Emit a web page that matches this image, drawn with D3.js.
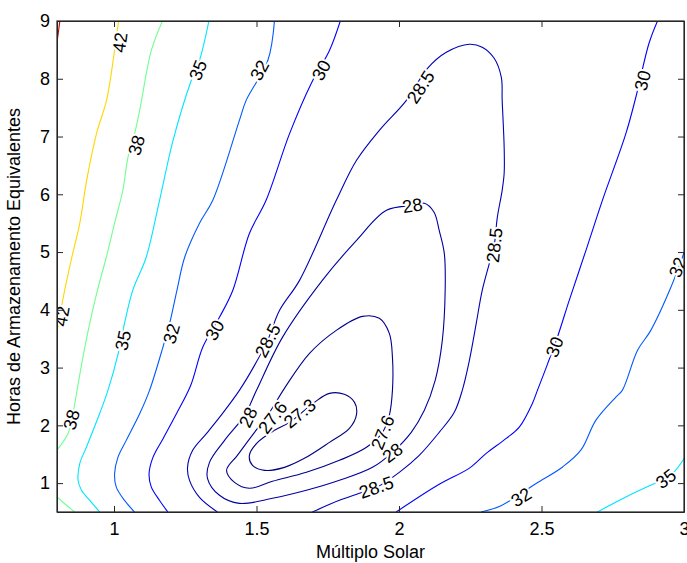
<!DOCTYPE html>
<html>
<head>
<meta charset="utf-8">
<script src="https://cdn.jsdelivr.net/npm/d3@7"></script>
<style>
body { margin: 0; background: #fff; }
text { font-family: "Liberation Sans", Arial, sans-serif; }
.axis path, .axis line { stroke: #262626; }
.axis text { fill: #000; font-size: 18px; }
</style>
</head>
<body>
<div id="chart"></div>
<script>
// ticks
var xTicks = [1, 1.5, 2, 2.5, 3];
var yTicks = [1, 2, 3, 4, 5, 6, 7, 8, 9];

// contour lines, points are [multiplo solar, horas]
var line48 = [[0.81, 9], [0.80, 8.63]];
var line42 = [[1.016, 9], [1.002, 8.49], [0.974, 7.63], [0.939, 7.06], [0.904, 6.24], [0.880, 5.50],
  [0.852, 4.91], [0.827, 4.34], [0.817, 4.08], [0.80, 3.62]];
var line38a = [[1.170, 9], [1.131, 8.49], [1.090, 7.45], [1.071, 7.02], [1.049, 6.64], [1.031, 6.07],
  [1.002, 5.50], [0.973, 4.91], [0.942, 4.34], [0.915, 3.77], [0.891, 3.18], [0.873, 2.68],
  [0.852, 2.10], [0.839, 1.86], [0.80, 1.57]];
var line38b = [[0.80, 0.76], [0.83, 0.63], [0.862, 0.5]];
var line35a = [[1.333, 9], [1.300, 8.32], [1.271, 7.97], [1.207, 6.93], [1.160, 5.90], [1.113, 4.91],
  [1.066, 4.34], [1.037, 3.77], [1.014, 3.23], [0.979, 2.61], [0.950, 2.21], [0.903, 1.62],
  [0.880, 1.34], [0.874, 1.05], [0.886, 0.875], [0.915, 0.70], [0.950, 0.5]];
var line35b = [[3.0, 1.42], [2.965, 1.19], [2.936, 1.08], [2.895, 0.99], [2.796, 0.76], [2.696, 0.5]];
var line32a = [[1.563, 9], [1.540, 8.32], [1.464, 7.63], [1.440, 7.28], [1.347, 5.90], [1.300, 5.50],
  [1.248, 4.91], [1.221, 4.34], [1.195, 3.76], [1.172, 3.36], [1.125, 2.61], [1.090, 2.20],
  [1.043, 1.74], [1.014, 1.45], [1.002, 1.16], [1.008, 0.93], [1.037, 0.70], [1.072, 0.5]];
var line32b = [[3.0, 4.99], [2.954, 4.39], [2.883, 3.64], [2.837, 3.30], [2.784, 2.61], [2.761, 2.49],
  [2.691, 2.09], [2.638, 1.57], [2.574, 1.28], [2.480, 0.99], [2.358, 0.61], [2.288, 0.5]];
var line30a = [[1.794, 9], [1.756, 8.49], [1.692, 7.92], [1.616, 7.05], [1.534, 5.90], [1.475, 5.32],
  [1.417, 4.34], [1.370, 3.87], [1.312, 3.36], [1.269, 2.69], [1.219, 2.20], [1.172, 1.77],
  [1.137, 1.45], [1.123, 1.16], [1.131, 0.93], [1.160, 0.70], [1.189, 0.5]];
var line30b = [[2.907, 9], [2.877, 8.61], [2.831, 7.68], [2.796, 7.05], [2.714, 5.90], [2.656, 5.03],
  [2.597, 4.16], [2.556, 3.53], [2.521, 3.06], [2.486, 2.61], [2.468, 2.38], [2.422, 1.97],
  [2.375, 1.77], [2.305, 1.51], [2.247, 1.26], [2.141, 0.98], [1.990, 0.5]];
var line28_5 = [[1.363, 0.5], [1.300, 0.754], [1.265, 1.048], [1.258, 1.273], [1.276, 1.568],
  [1.325, 1.862], [1.381, 2.208], [1.440, 2.606], [1.493, 3.038], [1.539, 3.471], [1.581, 3.991],
  [1.651, 4.510], [1.780, 5.896], [1.851, 6.588], [1.931, 7.107], [2.026, 7.627], [2.100, 8.18],
  [2.166, 8.458], [2.247, 8.597], [2.292, 8.545], [2.334, 8.354], [2.359, 8.025], [2.362, 7.627],
  [2.369, 6.813], [2.369, 6.363], [2.362, 6.069], [2.345, 5.601], [2.334, 5.116], [2.317, 4.804],
  [2.292, 4.337], [2.271, 3.766], [2.247, 3.125], [2.222, 2.606], [2.194, 2.226], [2.141, 1.879],
  [2.071, 1.481], [2.001, 1.187], [1.921, 0.927], [1.861, 0.823], [1.791, 0.702], [1.696, 0.5]];
var line28 = [[1.458, 2.173], [1.500, 2.606], [1.591, 3.523], [1.731, 4.510], [1.851, 5.203],
  [1.956, 5.722], [2.047, 5.809], [2.089, 5.844], [2.123, 5.69], [2.141, 5.376], [2.159, 4.977],
  [2.162, 4.337], [2.152, 3.471], [2.127, 2.779], [2.089, 2.260], [2.043, 1.879], [1.977, 1.533],
  [1.907, 1.273], [1.791, 1.048], [1.675, 0.875], [1.556, 0.737], [1.440, 0.650], [1.370, 0.789],
  [1.328, 1.083], [1.335, 1.360], [1.388, 1.741]];
var line27_6 = [[1.395, 1.221], [1.433, 1.481], [1.493, 1.879], [1.546, 2.226], [1.598, 2.641],
  [1.686, 3.246], [1.780, 3.645], [1.872, 3.887], [1.931, 3.853], [1.966, 3.593], [1.977, 3.177],
  [1.977, 2.606], [1.966, 2.173], [1.942, 1.879], [1.886, 1.620], [1.791, 1.394], [1.675, 1.187],
  [1.556, 1.031], [1.475, 0.910], [1.423, 1.013]];
var line27_3 = [[1.616, 2.052], [1.703, 2.398], [1.756, 2.554], [1.808, 2.537], [1.844, 2.398],
  [1.851, 2.191], [1.826, 1.948], [1.756, 1.706], [1.668, 1.429], [1.598, 1.273], [1.528, 1.221],
  [1.486, 1.308], [1.475, 1.481], [1.504, 1.706], [1.563, 1.914]];

var contours = [
  {level: 48, pts: line48, closed: false},
  {level: 42, pts: line42, closed: false},
  {level: 38, pts: line38a, closed: false},
  {level: 38, pts: line38b, closed: false},
  {level: 35, pts: line35a, closed: false},
  {level: 35, pts: line35b, closed: false},
  {level: 32, pts: line32a, closed: false},
  {level: 32, pts: line32b, closed: false},
  {level: 30, pts: line30a, closed: false},
  {level: 30, pts: line30b, closed: false},
  {level: 28.5, pts: line28_5, closed: false},
  {level: 28, pts: line28, closed: true},
  {level: 27.6, pts: line27_6, closed: true},
  {level: 27.3, pts: line27_3, closed: true}
];

// contour labels
var labelLevel = [42, 42, 38, 38, 35, 35, 35, 32, 32, 32, 32, 30, 30, 30, 30,
  28.5, 28.5, 28.5, 28.5, 28, 28, 28, 27.6, 27.6, 27.3];
var labelX = [1.02, 0.816, 1.078, 0.850, 1.294, 1.031, 2.936, 1.51, 1.201, 2.977, 2.428, 1.727, 1.353, 2.854, 2.545,
  2.075, 1.539, 2.334, 1.920, 2.047, 1.470, 1.977, 1.556, 1.942, 1.651];
var labelY = [8.63, 3.89, 6.85, 2.10, 8.15, 3.47, 1.08, 8.15, 3.59, 4.74, 0.76, 8.15, 3.65, 7.97, 3.36,
  7.86, 3.47, 5.12, 0.93, 5.81, 2.14, 1.53, 2.14, 1.88, 2.21];

var margin = {top: 21, right: 3, bottom: 51, left: 57},
  width = 627,
  height = 491;

var svg = d3.select("#chart")
  .append("svg")
    .attr("width", width + margin.left + margin.right)
    .attr("height", height + margin.top + margin.bottom)
  .append("g")
    .attr("transform", "translate(" + margin.left + "," + margin.top + ")");

var x = d3.scaleLinear().domain([0.8, 3]).range([0, width]);
var y = d3.scaleLinear().domain([0.5, 9]).range([height, 0]);

// jet colormap across the level range
var cMin = 27.3, cMax = 49.4;
var color = d3.scaleLinear()
  .domain([0, 0.125, 0.375, 0.625, 0.875, 1].map(function(t){ return cMin + t * (cMax - cMin); }))
  .range(["#000080", "#0000ff", "#00ffff", "#ffff00", "#ff0000", "#800000"]);

svg.append("clipPath").attr("id", "clip")
  .append("rect").attr("width", width).attr("height", height);

var openLine = d3.line()
  .x(function(d){ return x(d[0]); })
  .y(function(d){ return y(d[1]); })
  .curve(d3.curveCatmullRom.alpha(0.5));
var closedLine = d3.line()
  .x(function(d){ return x(d[0]); })
  .y(function(d){ return y(d[1]); })
  .curve(d3.curveCatmullRomClosed.alpha(0.5));

svg.append("g").attr("clip-path", "url(#clip)")
  .selectAll("path")
  .data(contours)
  .enter()
  .append("path")
    .attr("d", function(d){ return d.closed ? closedLine(d.pts) : openLine(d.pts); })
    .attr("fill", "none")
    .attr("stroke", function(d){ return color(d.level); })
    .attr("stroke-width", 1.1);

// angle of the nearest segment of a line of that level
function labelAngle(level, px, py) {
  var best = Infinity, ang = 0;
  contours.forEach(function(c){
    if (c.level !== level) return;
    var p = c.pts.map(function(d){ return [x(d[0]), y(d[1])]; });
    if (c.closed) p.push(p[0]);
    for (var i = 0; i < p.length - 1; i++) {
      var ax = p[i][0], ay = p[i][1], bx = p[i+1][0], by = p[i+1][1];
      var dx = bx - ax, dy = by - ay;
      var t = ((px - ax) * dx + (py - ay) * dy) / (dx * dx + dy * dy);
      t = Math.max(0, Math.min(1, t));
      var qx = ax + t * dx - px, qy = ay + t * dy - py;
      var dist = qx * qx + qy * qy;
      if (dist < best) { best = dist; ang = Math.atan2(dy, dx) * 180 / Math.PI; }
    }
  });
  if (ang > 90) ang -= 180;
  if (ang <= -90) ang += 180;
  return ang;
}

svg.append("g").attr("clip-path", "url(#clip)")
  .selectAll("text")
  .data(labelLevel)
  .enter()
  .append("text")
    .attr("transform", function(d, i){
      var px = x(labelX[i]), py = y(labelY[i]);
      return "translate(" + px + "," + py + ") rotate(" + labelAngle(d, px, py) + ")";
    })
    .attr("text-anchor", "middle")
    .attr("dy", "0.36em")
    .style("font-size", "18px")
    .style("fill", "#000")
    .style("stroke", "#fff")
    .style("stroke-width", 4)
    .style("paint-order", "stroke")
    .text(function(d){ return d; });

// axes, ticks pointing inward on all four sides
svg.append("g").attr("class", "axis")
  .attr("transform", "translate(0," + height + ")")
  .call(d3.axisBottom(x).tickValues(xTicks).tickFormat(function(d){ return d; })
    .tickSizeInner(-6).tickSizeOuter(0).tickPadding(10));
svg.append("g").attr("class", "axis")
  .call(d3.axisTop(x).tickValues(xTicks).tickFormat("").tickSizeInner(-6).tickSizeOuter(0));
svg.append("g").attr("class", "axis")
  .call(d3.axisLeft(y).tickValues(yTicks).tickFormat(function(d){ return d; })
    .tickSizeInner(-6).tickSizeOuter(0).tickPadding(7));
svg.append("g").attr("class", "axis")
  .attr("transform", "translate(" + width + ",0)")
  .call(d3.axisRight(y).tickValues(yTicks).tickFormat("").tickSizeInner(-6).tickSizeOuter(0));

svg.append("rect")
  .attr("width", width).attr("height", height)
  .attr("fill", "none").attr("stroke", "#262626").attr("stroke-width", 1.2);

svg.append("text")
  .attr("x", width / 2)
  .attr("y", height + 46)
  .attr("text-anchor", "middle")
  .style("font-size", "18px")
  .text("Múltiplo Solar");

svg.append("text")
  .attr("transform", "translate(" + (-37) + "," + (height / 2) + ") rotate(-90)")
  .attr("text-anchor", "middle")
  .style("font-size", "18px")
  .text("Horas de Armazenamento Equivalentes");
</script>
</body>
</html>
